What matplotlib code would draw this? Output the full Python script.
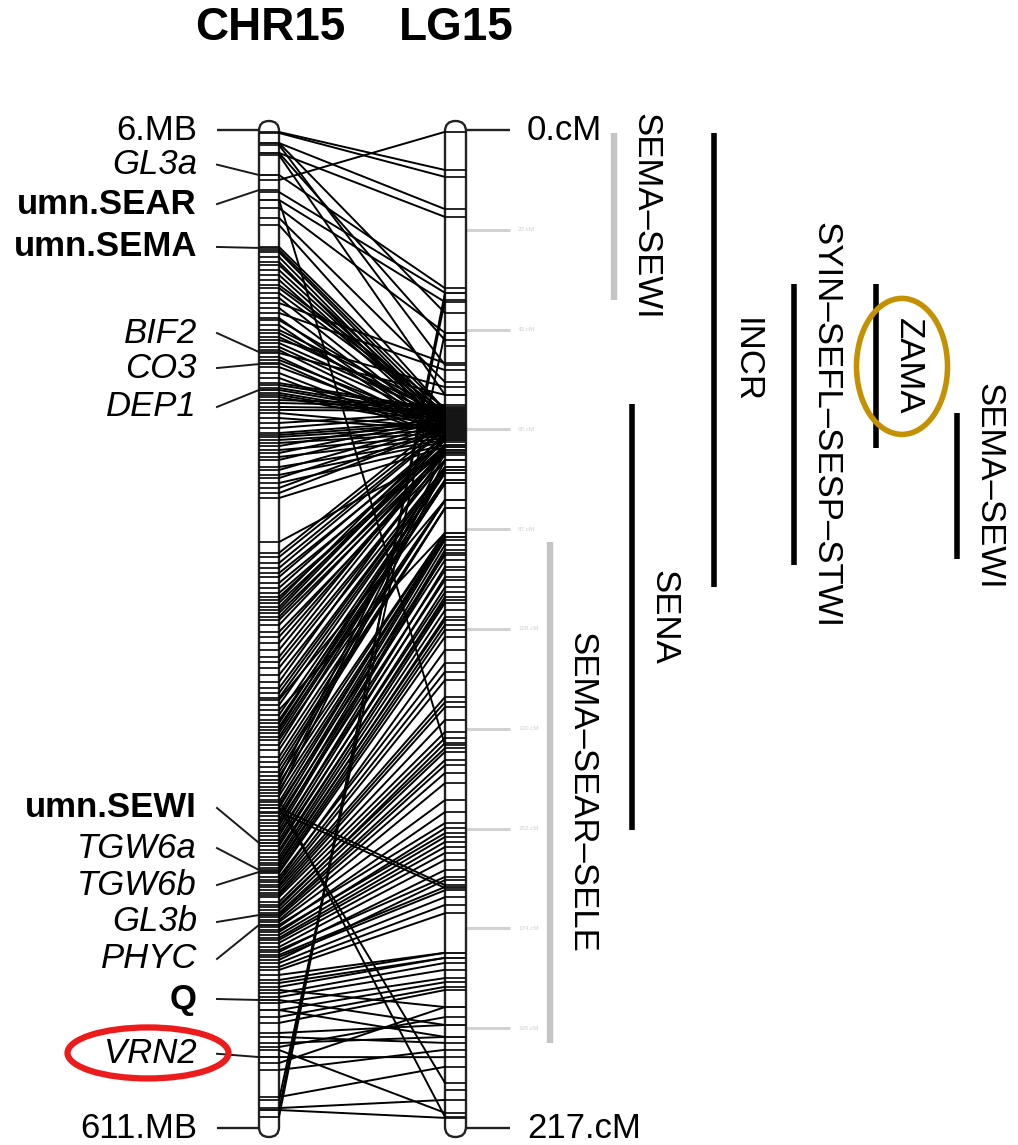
import matplotlib
matplotlib.use("Agg")
import matplotlib.pyplot as plt
from matplotlib.patches import FancyBboxPatch, Ellipse, ConnectionPatch

plt.rcParams['font.family'] = ['Liberation Sans', 'DejaVu Sans']

# ---------------- data ----------------
chr_name = "CHR15"
lg_name = "LG15"
chr_range_mb = (6, 611)
lg_range_cm = (0, 217)

# shared markers: physical position (MB) on CHR15 and genetic position (cM) on LG15
link_mb = [7.2, 7.8, 13.9, 19.9, 36.3, 13.9, 15.1, 19.9, 21.2, 33.3, 43.6, 48.4, 53.3, 59.3, 63.6,
           48.4, 76.9, 78.7, 80.0, 83.0, 86.0, 100.0, 101.8, 104.8, 110.9, 116.9, 121.2, 129.1,
           133.3, 137.5, 141.2, 145.4, 149.7, 159.4, 160.6, 162.4, 163.6, 165.4, 166.6, 167.9,
           177.6, 180.6, 189.7, 190.9, 192.1, 193.9, 195.7, 200.0, 204.2, 210.3, 215.1, 220.0,
           229.1, 255.8, 262.4, 264.9, 274.6, 280.6, 286.7, 290.9, 295.2, 298.8, 303.0, 310.3,
           321.2, 325.5, 340.6, 347.3, 365.5, 369.7, 374.0, 378.8, 386.1, 392.2, 400.0, 404.3,
           407.9, 413.4, 417.0, 420.0, 424.3, 427.9, 430.3, 434.0, 436.4, 440.0, 444.3, 446.7,
           448.5, 451.6, 453.4, 456.4, 458.8, 461.9, 464.9, 466.7, 468.5, 471.0, 474.0, 477.0,
           478.8, 480.7, 483.1, 484.9, 487.9, 491.0, 494.0, 497.0, 498.8, 501.3, 503.1, 506.1,
           507.3, 511.0, 515.2, 521.3, 525.5, 531.6, 535.2, 539.5, 543.7, 547.3, 351.5, 357.6,
           553.4, 555.8, 559.5, 561.9, 563.7, 568.0, 571.6, 575.8, 592.2, 600.1, 604.3, 600.1,
           598.9, 417.0, 419.4, 417.0, 412.2, 527.3, 533.4, 539.5, 594.0,
           # fan into LG15 ~60-67 cM
           87.8, 90.9, 93.9, 96.9, 107.8, 113.9, 120.0, 124.2, 127.2, 131.5, 135.1, 139.4, 143.6,
           147.2, 153.3, 156.3, 169.7, 171.5, 173.9, 175.7, 183.6, 186.6, 197.6, 201.8, 206.0,
           212.1, 217.0, 223.0, 226.1,
           # dense band into LG15 ~65-88 cM
           268.5, 271.5, 277.0, 283.6, 289.1, 292.7, 297.0, 301.2, 306.1, 313.3, 317.0, 328.5,
           332.1, 336.4, 344.3, 350.3, 354.6, 360.6, 363.7, 367.9, 371.5, 375.8, 381.8, 389.1,
           395.2, 397.6, 401.9, 406.1, 409.7,
           # diagonal block
           415.2, 421.9, 426.1, 432.2, 438.2, 442.5, 450.3, 455.2, 460.7, 463.7, 469.7, 475.8,
           481.9, 486.1, 489.1, 492.2, 495.8, 504.3, 509.1, 513.4, 518.2, 523.1, 529.2]
link_cm = [8.7, 10.2, 17.2, 18.9, 0.4, 39.8, 51.1, 45.7, 57.6, 34.4, 35.4, 37.4, 44.1, 54.8, 60.9,
           133.7, 60.9, 62.0, 63.1, 64.1, 65.2, 60.4, 61.3, 62.0, 50.7, 52.2, 62.6, 63.1,
           55.9, 63.5, 57.6, 64.1, 64.8, 60.9, 61.3, 62.0, 62.6, 63.1, 63.7, 64.4,
           64.8, 65.2, 63.1, 63.7, 64.4, 65.2, 65.9, 66.5, 67.0, 67.4, 67.8, 68.5,
           68.9, 70.2, 63.1, 64.1, 67.4, 68.9, 69.6, 65.9, 66.8, 70.0, 70.7, 71.8,
           68.9, 69.6, 70.2, 73.3, 74.6, 73.9, 76.8, 76.1, 80.5, 82.2, 70.2, 71.8,
           73.3, 87.6, 88.5, 89.1, 90.2, 91.3, 92.0, 95.0, 97.2, 99.4, 101.5, 102.8,
           104.4, 105.9, 107.6, 110.2, 115.9, 117.8, 123.3, 124.4, 125.5, 130.9, 132.2, 133.3,
           135.2, 137.0, 139.8, 142.0, 150.7, 152.9, 153.7, 155.9, 157.2, 158.7, 162.4, 164.6,
           165.3, 166.8, 170.3, 178.9, 180.0, 182.6, 184.4, 185.3, 186.3, 187.0, 80.5, 87.6,
           194.6, 198.5, 197.2, 192.9, 213.7, 201.6, 190.7, 200.0, 203.7, 37.0, 35.4, 214.8,
           210.9, 164.2, 164.8, 207.2, 214.6, 190.7, 194.6, 197.2, 44.1,
           62.6, 63.5, 64.1, 64.8, 65.2, 65.7, 66.1, 66.5, 60.9, 61.8, 62.4, 65.4, 65.9,
           66.3, 66.8, 67.2, 59.8, 60.2, 60.7, 61.1, 61.5, 62.0, 62.4, 62.8, 63.3,
           63.7, 64.1, 64.6, 65.0,
           64.8, 65.2, 66.5, 67.4, 68.5, 68.9, 67.4, 68.5, 69.6, 70.2, 70.2, 71.8,
           71.8, 73.3, 73.3, 73.9, 73.9, 74.6, 76.1, 76.8, 76.8, 80.5, 80.5, 82.2,
           82.2, 87.6, 87.6, 88.5, 88.5,
           92.4, 93.5, 95.7, 97.8, 100.5, 102.2, 106.5, 108.7, 113.1, 119.6, 128.3, 134.4,
           138.1, 145.7, 148.3, 151.8, 154.8, 160.9, 163.1, 168.5, 178.9, 180.0, 181.1]

# markers drawn on one map only
lg_extra_cm = [47.0, 208.7]

# labelled genes / markers on CHR15
gene_names = ["GL3a", "umn.SEAR", "umn.SEMA", "BIF2", "CO3", "DEP1", "umn.SEWI",
              "TGW6a", "TGW6b", "GL3b", "PHYC", "Q", "VRN2"]
gene_mb = [33.3, 42.4, 77.5, 140.6, 147.9, 163.6, 438.2, 454.6, 455.8, 481.9, 487.9, 533.4, 568.0]
gene_style = ["italic", "bold", "bold", "italic", "italic", "italic", "bold",
              "italic", "italic", "italic", "italic", "bold", "italic"]

# QTL intervals on LG15 (cM)
qtl_names = ["SEMA\u2013SEWI", "INCR", "SENA", "SEMA\u2013SEAR\u2013SELE",
             "SYIN\u2013SEFL\u2013SESP\u2013STWI", "ZAMA", "SEMA\u2013SEWI"]
qtl_start = [0.7, 0.7, 59.6, 89.6, 33.5, 33.5, 61.5]
qtl_end = [37.0, 99.4, 152.2, 198.5, 94.6, 69.1, 93.3]
qtl_grey = [True, False, False, True, False, False, False]

# faint LG15 scale ticks
lg_scale_cm = [21.7, 43.4, 65.1, 86.8, 108.5, 130.2, 151.9, 173.6, 195.3]

# ---------------- layout ----------------
W, H = 1018, 1145
TOP_PX, BOT_PX = 130, 1128
L_X0, L_X1 = 259, 279
R_X0, R_X1 = 445, 466
gene_label_y_mb = [27.0, 50.9, 76.9, 129.1, 150.3, 173.9, 417.0, 441.3, 463.7, 486.1, 508.5, 532.8, 566.0]
qtl_x = [614, 714, 632, 550, 794, 876, 957]
FS = 25

fig = plt.figure(figsize=(W / 100, H / 100), dpi=100)
pos = [0, (H - BOT_PX) / H, 1, (BOT_PX - TOP_PX) / H]
axL = fig.add_axes(pos, label="chr")
axR = fig.add_axes(pos, label="lg")
for ax in (axL, axR):
    ax.set_xlim(0, W)
    ax.axis("off")
axR.patch.set_visible(False)
axL.set_ylim(chr_range_mb[1], chr_range_mb[0])
axR.set_ylim(lg_range_cm[1], lg_range_cm[0])

mb_per_px = (chr_range_mb[1] - chr_range_mb[0]) / (BOT_PX - TOP_PX)
cm_per_px = (lg_range_cm[1] - lg_range_cm[0]) / (BOT_PX - TOP_PX)


def chromosome(ax, x0, x1, lo, hi, upp):
    pad = 9 * upp
    p = FancyBboxPatch((x0, lo - pad), x1 - x0, hi - lo + 2 * pad,
                       boxstyle="round,pad=0,rounding_size=%f" % ((x1 - x0) / 2),
                       mutation_aspect=upp, fc="white", ec="#222222", lw=1.7,
                       zorder=2, clip_on=False)
    ax.add_patch(p)


chromosome(axL, L_X0, L_X1, *chr_range_mb, mb_per_px)
chromosome(axR, R_X0, R_X1, *lg_range_cm, cm_per_px)

# marker ticks
axL.hlines(link_mb + gene_mb, L_X0, L_X1, color="#151515", lw=1.3, zorder=3, clip_on=False)
axR.hlines(link_cm + lg_extra_cm, R_X0, R_X1, color="#151515", lw=1.3, zorder=3, clip_on=False)

# links
for mb, cm in zip(link_mb, link_cm):
    con = ConnectionPatch(xyA=(L_X1, mb), coordsA=axL.transData,
                          xyB=(R_X0, cm), coordsB=axR.transData,
                          color="black", lw=1.4, zorder=1)
    fig.add_artist(con)

# end scales
axL.hlines(list(chr_range_mb), 217, L_X0, color="#222222", lw=1.7, clip_on=False)
for v in chr_range_mb:
    axL.text(197, v, "%d.MB" % v, ha="right", va="center", fontsize=FS)
axR.hlines(list(lg_range_cm), R_X1, 510, color="#222222", lw=1.7, clip_on=False)
for v in lg_range_cm:
    axR.text(527, v, "%d.cM" % v, ha="left", va="center", fontsize=FS)

# faint intermediate scale
axR.hlines(lg_scale_cm, R_X1, 510, color="#d2d2d2", lw=2.2, zorder=0, clip_on=False)
for v in lg_scale_cm:
    axR.text(518, v, "%d.cM" % round(v), ha="left", va="center", fontsize=4.5, color="#d0d0d0")

# gene labels with leader lines
for name, mb, ly, st in zip(gene_names, gene_mb, gene_label_y_mb, gene_style):
    axL.plot([217, L_X0], [ly, mb], color="#1a1a1a", lw=1.4, clip_on=False)
    axL.text(197, ly, name, ha="right", va="center", fontsize=FS,
             fontstyle="italic" if st == "italic" else "normal",
             fontweight="bold" if st == "bold" else "normal")

# QTL bars
for name, s, e, grey, x in zip(qtl_names, qtl_start, qtl_end, qtl_grey, qtl_x):
    axR.vlines(x, s, e, color="#c4c4c4" if grey else "black", lw=4.6 if grey else 4.0,
               clip_on=False)
    axR.text(x + 32, (s + e) / 2, name, rotation=270, ha="center", va="center", fontsize=FS)

# highlight ellipses
axL.add_patch(Ellipse((148, 565.5), 161, 51 * mb_per_px, fill=False, ec="#ec1c1c",
                      lw=4.5, clip_on=False, zorder=5))
axR.add_patch(Ellipse((902, 51.4), 91, 136 * cm_per_px, fill=False, ec="#c49102",
                      lw=4.0, clip_on=False, zorder=5))

# titles
fig.text(270 / W, 1 - 28 / H, chr_name, ha="center", va="center", fontsize=33, fontweight="bold")
fig.text(456 / W, 1 - 28 / H, lg_name, ha="center", va="center", fontsize=33, fontweight="bold")

fig.savefig("out.png", dpi=100)
